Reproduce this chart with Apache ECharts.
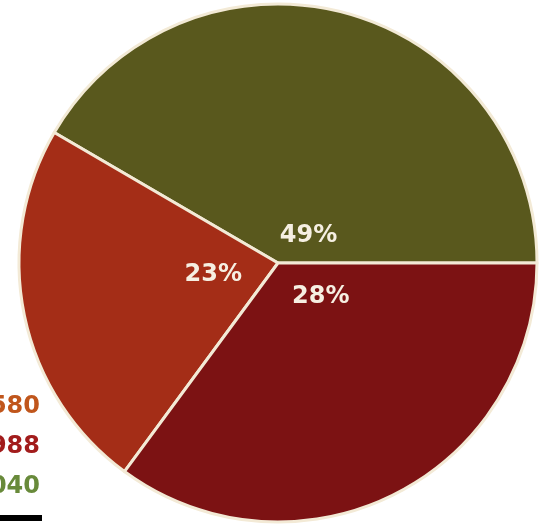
<!DOCTYPE html>
<html>
<head>
<meta charset="utf-8">
<script src="https://cdn.jsdelivr.net/npm/echarts@6/dist/echarts.min.js"></script>
<style>html,body{margin:0;padding:0;background:#fff}#c{width:549px;height:525px}</style>
</head>
<body>
<div id="c"></div>
<script>
// Slice shares as drawn (angles)
var sliceNames = ['green', 'orange', 'darkred'];
var sliceValues = [41.6, 23.3, 35.1];
// Printed labels on the slices
var sliceLabels = ['49%', '23%', '28%'];
var sliceColors = ['#59581d', '#a42d17', '#7c1213'];
// Side texts (cut by the left edge)
var sideTexts = ['580', '988', '040'];
var sideColors = ['#c0561c', '#a21c1c', '#688a3a'];

var labelOffsets = [[-4, 101], [65, -15], [-17, -84]];

var chart = echarts.init(document.getElementById('c'), null, {renderer: 'canvas'});
var data = sliceValues.map(function (v, i) {
  return {
    name: sliceNames[i],
    value: v,
    itemStyle: {color: sliceColors[i]},
    label: {offset: labelOffsets[i]}
  };
});
var graphics = sideTexts.map(function (t, i) {
  return {
    type: 'text',
    x: 40,
    y: 407 + i * 40,
    style: {
      text: t,
      fill: sideColors[i],
      fontSize: 24,
      fontWeight: 'bold',
      fontFamily: 'DejaVu Sans',
      align: 'right',
      verticalAlign: 'middle'
    }
  };
});
graphics.push({
  type: 'rect',
  shape: {x: 0, y: 515, width: 42, height: 6},
  style: {fill: '#000'}
});
chart.setOption({
  animation: false,
  backgroundColor: '#fff',
  series: [{
    type: 'pie',
    center: [278, 263],
    radius: [0, 259],
    startAngle: 0,
    clockwise: false,
    silent: true,
    data: data,
    itemStyle: {borderColor: '#f3ead6', borderWidth: 3},
    label: {
      position: 'inside',
      color: '#f6efe2',
      fontFamily: 'DejaVu Sans',
      fontWeight: 'bold',
      fontSize: 24,
      formatter: function (p) { return sliceLabels[p.dataIndex]; }
    },
    labelLine: {show: false},
    emphasis: {disabled: true}
  }],
  graphic: graphics
});
</script>
</body>
</html>
